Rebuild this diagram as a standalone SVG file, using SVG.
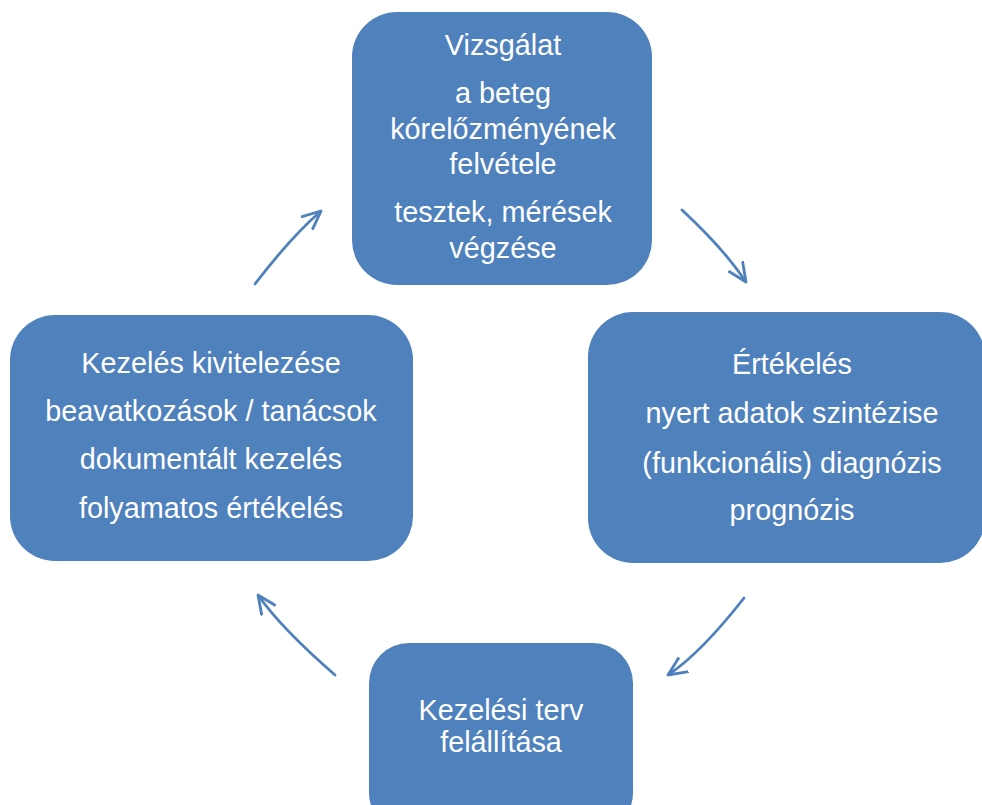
<svg xmlns="http://www.w3.org/2000/svg" width="982" height="805" viewBox="0 0 982 805">
<style>
.box{fill:#4F81BD;}
.t{fill:#FFFFFF;font-family:"Liberation Sans",Arial,sans-serif;font-size:28.8px;text-anchor:middle;}
.c{fill:none;stroke:#4F81BD;stroke-width:2.8;stroke-linecap:round;}
</style>
<defs>
<marker id="ah" viewBox="0 0 10 10" refX="10" refY="5" markerUnits="userSpaceOnUse" markerWidth="19" markerHeight="19" orient="auto">
<path d="M0,0.5 L10,5 L0,9.5" fill="none" stroke="#4F81BD" stroke-width="1.5" stroke-linecap="round" stroke-linejoin="miter"/>
</marker>
</defs>
<rect width="982" height="805" fill="#FFFFFF"/>
<g id="connectors">
<path class="c" d="M255,284 Q291,237 321,211" marker-end="url(#ah)"/>
<path class="c" d="M682,210 Q724,249 746,282" marker-end="url(#ah)"/>
<path class="c" d="M744,598 Q701,653 668,675" marker-end="url(#ah)"/>
<path class="c" d="M335,675 Q281,628 258,595" marker-end="url(#ah)"/>
</g>
<g id="vizsgalat">
<rect class="box" x="352" y="12" width="300" height="273" rx="45" ry="45"/>
<text class="t" x="503" y="55">Vizsgálat</text>
<text class="t" x="503" y="103">a beteg</text>
<text class="t" x="503" y="139">kórelőzményének</text>
<text class="t" x="503" y="174">felvétele</text>
<text class="t" x="503" y="222">tesztek, mérések</text>
<text class="t" x="503" y="258">végzése</text>
</g>
<g id="ertekeles">
<rect class="box" x="588" y="312" width="397" height="251" rx="45" ry="45"/>
<text class="t" x="792" y="374">Értékelés</text>
<text class="t" x="792" y="423">nyert adatok szintézise</text>
<text class="t" x="792" y="473">(funkcionális) diagnózis</text>
<text class="t" x="792" y="520">prognózis</text>
</g>
<g id="kezelesi-terv">
<rect class="box" x="369" y="643" width="264" height="190" rx="40" ry="40"/>
<text class="t" x="501" y="720">Kezelési terv</text>
<text class="t" x="501" y="752">felállítása</text>
</g>
<g id="kezeles">
<rect class="box" x="10" y="315" width="403" height="246" rx="45" ry="45"/>
<text class="t" x="211" y="373">Kezelés kivitelezése</text>
<text class="t" x="211" y="421">beavatkozások / tanácsok</text>
<text class="t" x="211" y="469">dokumentált kezelés</text>
<text class="t" x="211" y="518">folyamatos értékelés</text>
</g>
</svg>
